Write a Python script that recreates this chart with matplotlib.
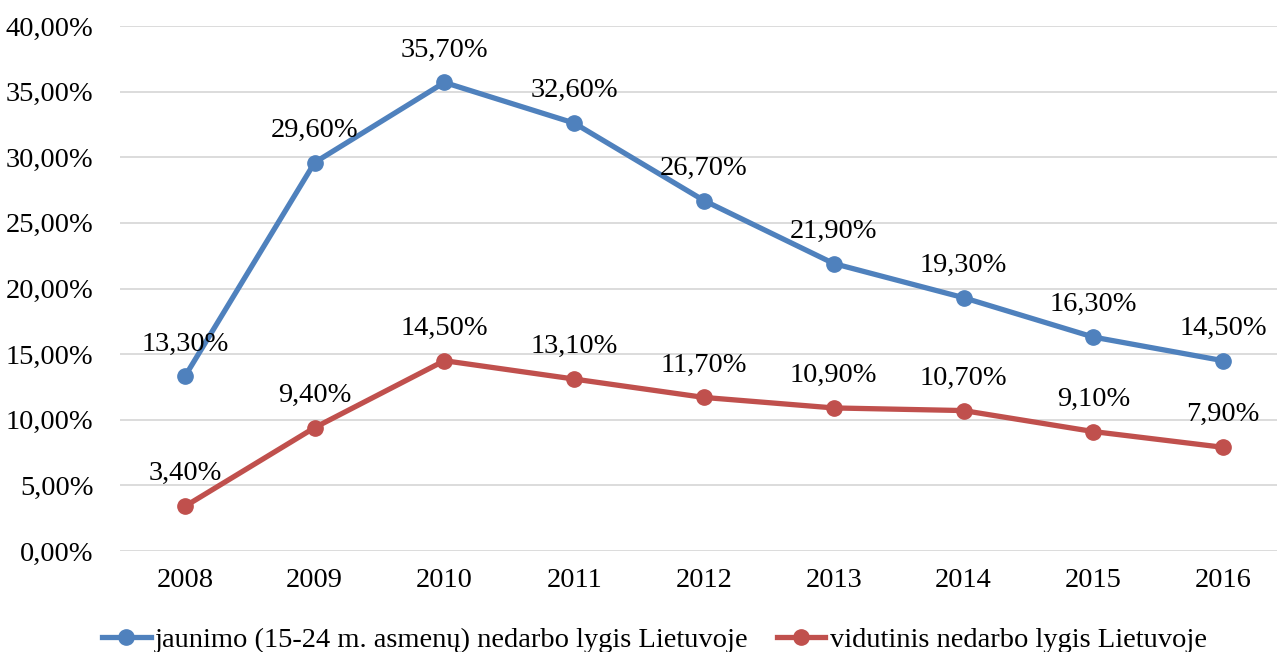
import numpy as np
import matplotlib.pyplot as plt
from matplotlib.lines import Line2D

plt.rcParams['font.family'] = ['Liberation Serif', 'DejaVu Serif']

years = ['2008', '2009', '2010', '2011', '2012', '2013', '2014', '2015', '2016']
youth = [13.3, 29.6, 35.7, 32.6, 26.7, 21.9, 19.3, 16.3, 14.5]
average = [3.4, 9.4, 14.5, 13.1, 11.7, 10.9, 10.7, 9.1, 7.9]
series_names = ['jaunimo (15-24 m. asmenų) nedarbo lygis Lietuvoje',
                'vidutinis nedarbo lygis Lietuvoje']

blue = '#4F81BD'
red = '#C0504D'
fs = 20.5


def pct(v, decimals):
    return f'{v:.{decimals}f}'.replace('.', ',') + '%'


fig = plt.figure(figsize=(12.77, 6.52), dpi=100)
ax = fig.add_axes([120 / 1277, 101 / 652, 1168 / 1277, 525 / 652])

x = np.arange(len(years))
for vals, col in [(youth, blue), (average, red)]:
    ax.plot(x, vals, color=col, lw=3.8, marker='o', ms=11, zorder=3,
            solid_capstyle='round')
    for xi, v in zip(x, vals):
        ax.annotate(pct(v, 2), (xi, v), xytext=(0, 20), textcoords='offset pixels',
                    ha='center', va='bottom', fontsize=fs)

ax.set_xlim(-0.5, len(years) - 0.5)
ax.set_ylim(0, 40)
ax.set_yticks(np.arange(0, 41, 5))
ax.set_yticklabels([pct(t, 2) for t in np.arange(0, 41, 5)], fontsize=fs)
ax.set_xticks(x)
ax.set_xticklabels(years, fontsize=fs)
ax.tick_params(length=0, pad=12)
ax.tick_params(axis='y', pad=19)
ax.grid(axis='y', color='#D9D9D9', lw=1.3)
ax.set_axisbelow(True)
for s in ax.spines.values():
    s.set_visible(False)

handles = [Line2D([0], [0], color=blue, lw=3.8, marker='o', ms=11),
           Line2D([0], [0], color=red, lw=3.8, marker='o', ms=11)]
fig.legend(handles, series_names, loc='center', bbox_to_anchor=(0.5125, 12 / 652),
           ncol=2, frameon=False, fontsize=fs, handlelength=1.7, handletextpad=0.15,
           columnspacing=1.0)

fig.savefig('out.png', dpi=100)
